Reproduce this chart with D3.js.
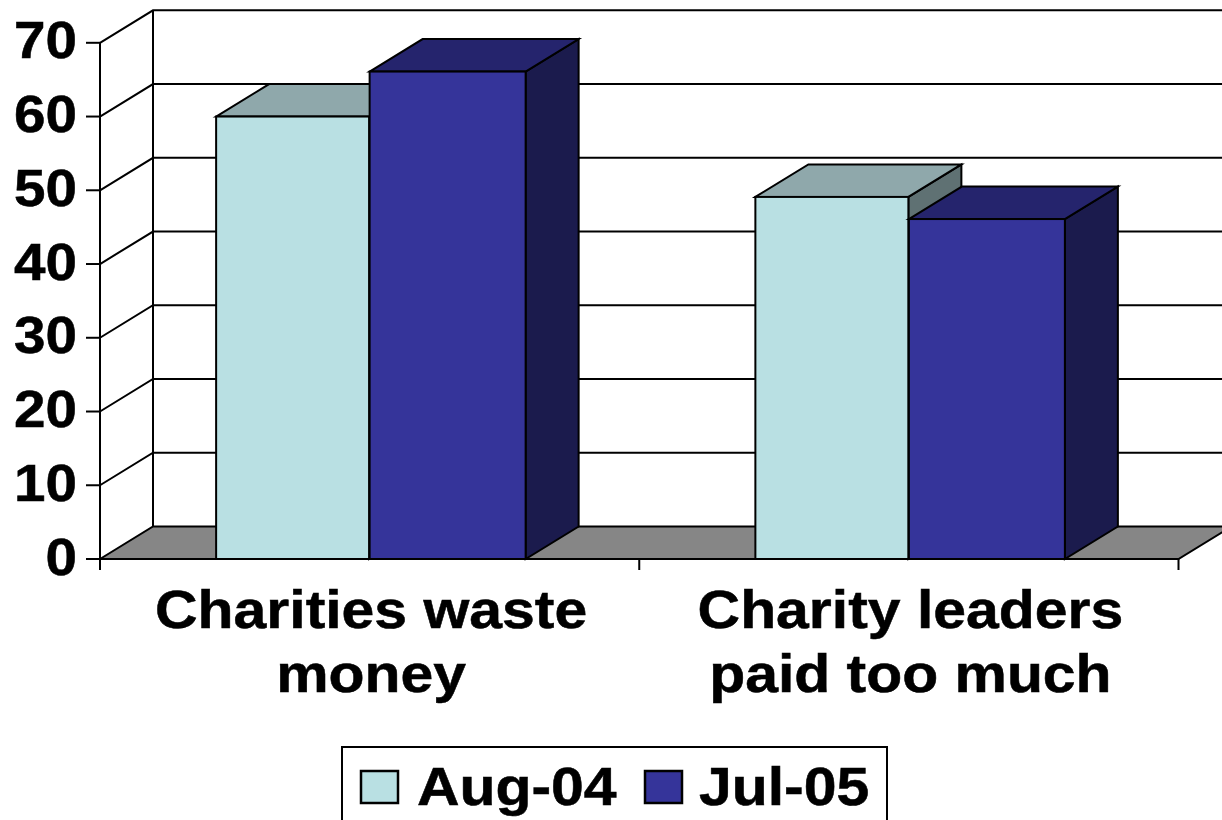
<!DOCTYPE html>
<html><head><meta charset="utf-8"><script src="https://cdn.jsdelivr.net/npm/d3@7"></script>
<style>html,body{margin:0;padding:0;background:#fff}svg{display:block}text{font-family:"Liberation Sans",Arial,sans-serif;font-weight:bold;fill:#000;stroke:#000;stroke-width:.5px}</style></head>
<body><svg id="c" width="1222" height="820"></svg>
<script>
const categories=[["Charities waste","money"],["Charity leaders","paid too much"]];
const seriesNames=["Aug-04","Jul-05"];
const aug04=[60,49.1];
const jul05=[66.1,46.1];
const yTicks=[0,10,20,30,40,50,60,70];
const svg=d3.select("#c");
const W=1222;
const y=d3.scaleLinear().domain([0,70]).range([559,42.8]);
const x0=d3.scaleBand().domain([0,1]).range([100,1178.5]);
const dx=53,dy=-32.5;
const front={a:"#b9e0e3",b:"#35349a"};
const top_={a:"#8fa8ab",b:"#25246d"};
const side={a:"#5f7173",b:"#1b1b4d"};
const S="#000",SW=2;
const [xL,xR]=x0.range();
svg.append("path").attr("d",`M${xL},${y(0)}L${xL+dx},${y(0)+dy}L${xR+dx},${y(0)+dy}L${xR},${y(0)}Z`).attr("fill","#868686").attr("stroke",S).attr("stroke-width",SW);
svg.append("g").selectAll("path").data(yTicks.slice(1)).join("path")
 .attr("d",t=>`M${xL},${y(t)}L${xL+dx},${y(t)+dy}L${W+2},${y(t)+dy}`)
 .attr("fill","none").attr("stroke",S).attr("stroke-width",SW);
svg.append("path").attr("d",`M${xL+dx},${y(0)+dy}V${y(70)+dy}`).attr("stroke",S).attr("stroke-width",SW);
function bar(x,w,v,k){
 const g=svg.append("g");
 const t=y(v),b=y(0);
 g.append("path").attr("d",`M${x+w},${t}L${x+w+dx},${t+dy}V${b+dy}L${x+w},${b}Z`).attr("fill",side[k]).attr("stroke",S).attr("stroke-width",SW);
 g.append("path").attr("d",`M${x},${t}L${x+dx},${t+dy}H${x+w+dx}L${x+w},${t}Z`).attr("fill",top_[k]).attr("stroke",S).attr("stroke-width",SW);
 g.append("rect").attr("x",x).attr("y",t).attr("width",w).attr("height",b-t).attr("fill",front[k]).attr("stroke",S).attr("stroke-width",SW);
}
const bw=155;
[0,1].forEach(i=>{
 const c=x0(i)+x0.bandwidth()/2;
 bar(c-bw+1.5,bw-2,aug04[i],"a");
 bar(c,bw+1,jul05[i],"b");
});
svg.append("path").attr("d",`M${xL},${y(70)}V${y(0)}H${xR}`).attr("fill","none").attr("stroke",S).attr("stroke-width",SW);
svg.append("g").selectAll("line").data(yTicks).join("line").attr("x1",xL-14).attr("x2",xL).attr("y1",t=>y(t)).attr("y2",t=>y(t)).attr("stroke",S).attr("stroke-width",SW);
svg.append("g").selectAll("line").data([xL,(xL+xR)/2,xR]).join("line").attr("x1",d=>d).attr("x2",d=>d).attr("y1",y(0)).attr("y2",y(0)+11).attr("stroke",S).attr("stroke-width",SW);
const sx=1.155,sy=1.05;
svg.append("g").selectAll("text").data(yTicks).join("text")
 .attr("transform",t=>`translate(77,${y(t)+15.5}) scale(${sx},${sy})`)
 .attr("text-anchor","end").attr("font-size",49).text(t=>t);
categories.forEach((c,i)=>{
 const cx=x0(i)+x0.bandwidth()/2+1.5;
 c.forEach((l,j)=>svg.append("text").attr("transform",`translate(${cx},${628+j*64}) scale(${sx},${sy})`).attr("text-anchor","middle").attr("font-size",51).text(l));
});
svg.append("rect").attr("x",342).attr("y",747).attr("width",545).attr("height",90).attr("fill","#fff").attr("stroke",S).attr("stroke-width",2);
[[361,"a",417],[645,"b",699]].forEach(([x,k,tx],i)=>{
 svg.append("rect").attr("x",x).attr("y",771).attr("width",37).attr("height",32).attr("fill",front[k]).attr("stroke",S).attr("stroke-width",2.5);
 svg.append("text").attr("transform",`translate(${tx},805) scale(${sx},${sy})`).attr("font-size",51).text(seriesNames[i]);
});
</script></body></html>
